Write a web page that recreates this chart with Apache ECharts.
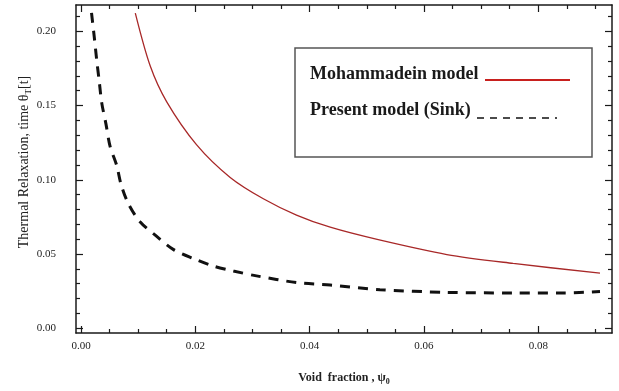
<!DOCTYPE html>
<html>
<head>
<meta charset="utf-8">
<script src="https://cdn.jsdelivr.net/npm/echarts@6/dist/echarts.min.js"></script>
<style>
html,body{margin:0;padding:0;background:#fff;}
#chart{width:619px;height:391px;}
</style>
</head>
<body>
<div id="chart"></div>
<script>
// ---- data ----
const mohX = [0.0095, 0.0121, 0.0150, 0.0202, 0.0261, 0.0319, 0.0377, 0.0436, 0.0520, 0.0640, 0.0756, 0.0908];
const mohY = [0.2123, 0.1768, 0.1525, 0.1237, 0.1016, 0.0872, 0.0762, 0.0680, 0.0596, 0.0496, 0.0436, 0.0370];

const sinkX = [0.00184, 0.00233, 0.00275, 0.0032, 0.00362, 0.00437, 0.00507, 0.00625, 0.0070, 0.00828, 0.01032, 0.01325, 0.0162, 0.01965, 0.02315, 0.02665, 0.0307, 0.0377, 0.0436, 0.0523, 0.0640, 0.0756, 0.0844, 0.0908];
const sinkY = [0.2125, 0.1959, 0.1806, 0.1660, 0.1520, 0.1375, 0.1228, 0.1096, 0.0970, 0.0839, 0.0717, 0.0618, 0.0529, 0.0469, 0.0418, 0.0385, 0.0352, 0.0307, 0.0290, 0.0259, 0.0241, 0.0237, 0.0237, 0.0246];

const xMajor = [0, 0.02, 0.04, 0.06, 0.08];
const xMinor = [0.005, 0.01, 0.015, 0.025, 0.03, 0.035, 0.045, 0.05, 0.055, 0.065, 0.07, 0.075, 0.085, 0.09];
const yMajor = [0, 0.05, 0.10, 0.15, 0.20];
const yMinor = [0.01, 0.02, 0.03, 0.04, 0.06, 0.07, 0.08, 0.09, 0.11, 0.12, 0.13, 0.14, 0.16, 0.17, 0.18, 0.19, 0.21];

const seriesNames = ['Mohammadein model', 'Present model (Sink)'];
const xTitle = 'Void  fraction , ψ';
const yTitle = 'Thermal Relaxation, time θ';

const X_MIN = -0.000875, X_MAX = 0.0929;
const Y_MIN = -0.0033, Y_MAX = 0.2178;

const axisCol = '#1a1a1a';
const serif = '"Liberation Serif", "DejaVu Serif", serif';

function mkAxis(type, pos, vals, len, labels, line, extra) {
  const a = {
    type: 'value', position: pos,
    min: type === 'x' ? X_MIN : Y_MIN,
    max: type === 'x' ? X_MAX : Y_MAX,
    axisLine: { show: line, onZero: false, lineStyle: { color: axisCol, width: 1.5 } },
    axisTick: { show: true, inside: true, length: len, customValues: vals, lineStyle: { color: axisCol, width: 1.2 } },
    axisLabel: {
      show: labels, customValues: vals,
      formatter: v => v.toFixed(2),
      fontFamily: serif, fontSize: 11, color: '#222',
      margin: type === 'x' ? 8 : 20
    },
    splitLine: { show: false }
  };
  return Object.assign(a, extra || {});
}

const chart = echarts.init(document.getElementById('chart'), null, { renderer: 'canvas' });

const option = {
  animation: false,
  backgroundColor: '#ffffff',
  grid: { left: 76, right: 7, top: 5, bottom: 53, containLabel: false },
  xAxis: [
    mkAxis('x', 'bottom', xMajor, 7, true, true, {
      name: '{t|' + xTitle + '}{s|0}', nameLocation: 'middle', nameGap: 37,
      nameTextStyle: {
        fontFamily: serif, fontSize: 12, fontWeight: 'bold', color: '#222',
        rich: {
          t: { fontFamily: serif, fontSize: 12, fontWeight: 'bold', color: '#222', lineHeight: 16 },
          s: { fontFamily: serif, fontSize: 8, fontWeight: 'bold', color: '#222', verticalAlign: 'bottom', lineHeight: 16 }
        }
      }
    }),
    mkAxis('x', 'bottom', xMinor, 4, false, false),
    mkAxis('x', 'top', xMajor, 7, false, true),
    mkAxis('x', 'top', xMinor, 4, false, false)
  ],
  yAxis: [
    mkAxis('y', 'left', yMajor, 7, true, true),
    mkAxis('y', 'left', yMinor, 4, false, false),
    mkAxis('y', 'right', yMajor, 7, false, true),
    mkAxis('y', 'right', yMinor, 4, false, false)
  ],
  graphic: [
    {
      type: 'text', x: 24, y: 162, rotation: Math.PI / 2,
      style: {
        text: '{t|' + yTitle + '}{s|T}{t|[t]}',
        align: 'center', verticalAlign: 'middle',
        rich: {
          t: { fontFamily: serif, fontSize: 14, fill: '#222', lineHeight: 18 },
          s: { fontFamily: serif, fontSize: 9, fill: '#222', verticalAlign: 'bottom', lineHeight: 18 }
        }
      }
    },
    {
      type: 'rect', shape: { x: 295, y: 48, width: 297, height: 109 },
      style: { fill: '#fff', stroke: '#555', lineWidth: 1.5 }, z: 10
    },
    {
      type: 'text', x: 310, y: 74, z: 11,
      style: { text: seriesNames[0], font: 'bold 18px ' + serif, fill: '#1a1a1a', align: 'left', verticalAlign: 'middle' }
    },
    {
      type: 'line', shape: { x1: 485, y1: 80, x2: 570, y2: 80 }, z: 11,
      style: { stroke: '#c8201e', lineWidth: 2 }
    },
    {
      type: 'text', x: 310, y: 110, z: 11,
      style: { text: seriesNames[1], font: 'bold 18px ' + serif, fill: '#1a1a1a', align: 'left', verticalAlign: 'middle' }
    },
    {
      type: 'line', shape: { x1: 477, y1: 118, x2: 557, y2: 118 }, z: 11,
      style: { stroke: '#111', lineWidth: 1.6, lineDash: [7, 6] }
    }
  ],
  series: [
    {
      name: seriesNames[0], type: 'line', xAxisIndex: 0, yAxisIndex: 0,
      data: mohX.map((x, i) => [x, mohY[i]]),
      showSymbol: false, smooth: 0.3, clip: true,
      lineStyle: { color: '#a82828', width: 1.3 }
    },
    {
      name: seriesNames[1], type: 'line', xAxisIndex: 0, yAxisIndex: 0,
      data: sinkX.map((x, i) => [x, sinkY[i]]),
      showSymbol: false, smooth: 0.3, clip: true,
      lineStyle: { color: '#111', width: 3, type: [10, 8], cap: 'butt' }
    }
  ]
};
chart.setOption(option);
</script>
</body>
</html>
